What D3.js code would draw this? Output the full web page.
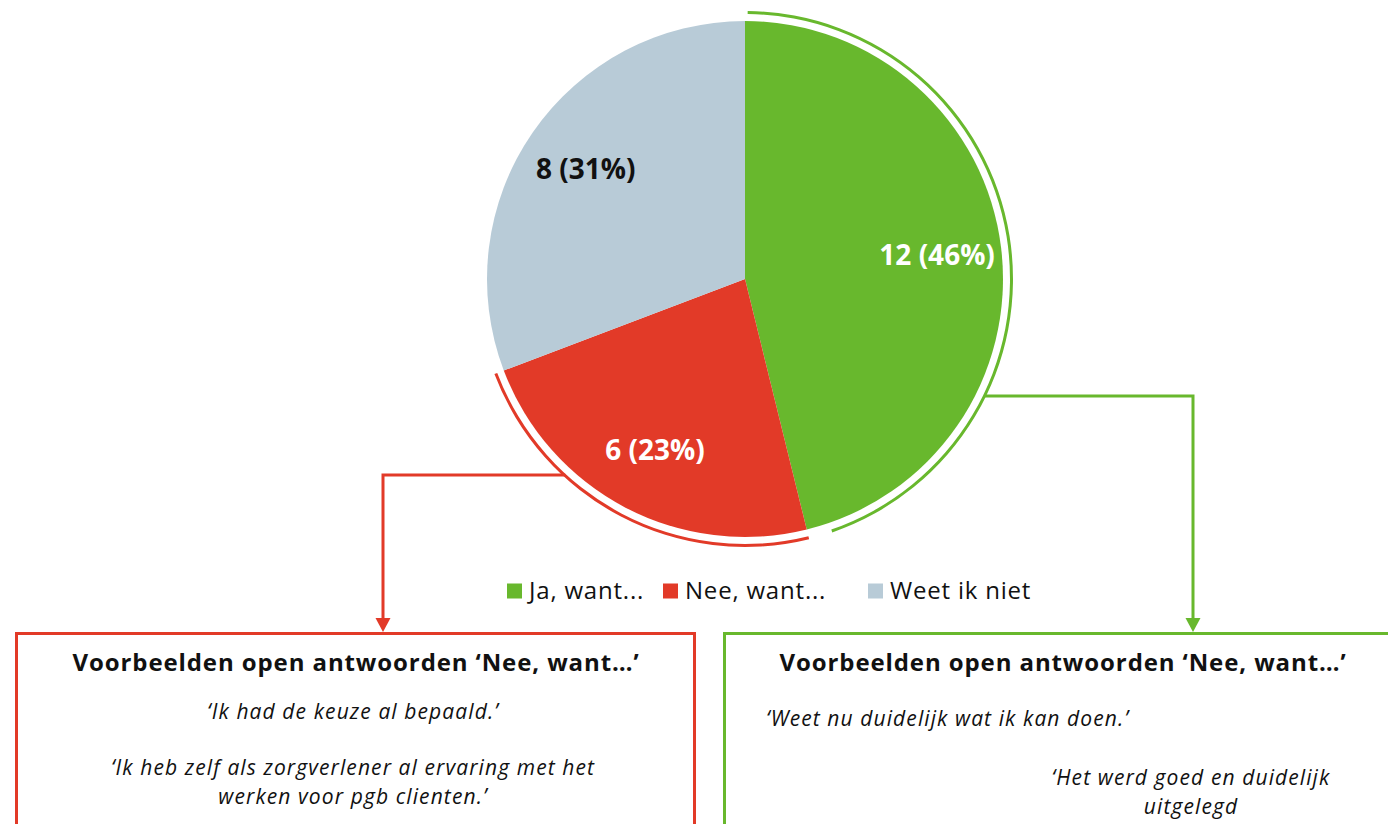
<!DOCTYPE html>
<html>
<head>
<meta charset="utf-8">
<script src="https://cdn.jsdelivr.net/npm/d3@7"></script>
<style>
  body { margin: 0; background: #fff; }
  svg { display: block; font-family: "Open Sans", "Noto Sans", sans-serif; }
</style>
</head>
<body>
<svg id="chart" width="1388" height="824"></svg>
<script>
// data
var categories = ["Ja, want...", "Nee, want...", "Weet ik niet"];
var counts = [12, 6, 8];
var colors = ["#68b82d", "#e23a28", "#b8cbd7"];
var labelColors = ["#fff", "#fff", "#111"];
var redTitle = "Voorbeelden open antwoorden \u2018Nee, want\u2026\u2019";
var redQuotes = ["\u2018Ik had de keuze al bepaald.\u2019", "", "\u2018Ik heb zelf als zorgverlener al ervaring met het", "werken voor pgb clienten.\u2019"];
var greenTitle = "Voorbeelden open antwoorden \u2018Nee, want\u2026\u2019";
var greenQuotes = ["\u2018Weet nu duidelijk wat ik kan doen.\u2019", "\u2018Het werd goed en duidelijk", "uitgelegd"];

var svg = d3.select("#chart");
var cx = 745, cy = 279, r = 258;
var total = d3.sum(counts);

var pie = d3.pie().sort(null).value(function(d) { return d; });
var arcs = pie(counts);
var arc = d3.arc().innerRadius(0).outerRadius(r);
var labelArc = d3.arc().innerRadius(r * 0.75).outerRadius(r * 0.75);

var g = svg.append("g").attr("transform", "translate(" + cx + "," + cy + ")");

g.selectAll("path.slice")
  .data(arcs)
  .enter().append("path")
  .attr("class", "slice")
  .attr("d", arc)
  .attr("fill", function(d, i) { return colors[i]; });

g.selectAll("text.lbl")
  .data(arcs)
  .enter().append("text")
  .attr("class", "lbl")
  .attr("transform", function(d) { return "translate(" + labelArc.centroid(d) + ")"; })
  .attr("text-anchor", "middle")
  .attr("dy", "0.35em")
  .style("font-size", "28px")
  .style("font-weight", "bold")
  .attr("fill", function(d, i) { return labelColors[i]; })
  .text(function(d) { return d.value + " (" + Math.round(d.value / total * 100) + "%)"; });

// outer highlight arcs for "Ja" and "Nee"
var ring = d3.arc().innerRadius(265).outerRadius(268);
g.append("path")
  .attr("d", ring({ startAngle: arcs[0].startAngle + 0.01, endAngle: arcs[0].endAngle - 0.09 }))
  .attr("fill", colors[0]);
g.append("path")
  .attr("d", ring({ startAngle: arcs[1].startAngle, endAngle: arcs[1].endAngle }))
  .attr("fill", colors[1]);

// connectors
function connector(y, x2, yEnd, side, color) {
  var xr = Math.sqrt(266 * 266 - (y - cy) * (y - cy));
  var x1 = cx + side * xr;
  svg.append("path")
    .attr("d", "M" + x1 + "," + y + "H" + x2 + "V" + (yEnd - 12))
    .attr("fill", "none")
    .attr("stroke", color)
    .attr("stroke-width", 3);
  svg.append("path")
    .attr("d", "M" + (x2 - 7.5) + "," + (yEnd - 14) + "L" + (x2 + 7.5) + "," + (yEnd - 14) + "L" + x2 + "," + yEnd + "Z")
    .attr("fill", color);
}
connector(475, 383, 632, -1, colors[1]);
connector(396, 1193, 632, 1, colors[0]);

// legend
var legend = svg.append("g").attr("transform", "translate(507,591)");
var legendX = [0, 156, 361];
categories.forEach(function(c, i) {
  var lg = legend.append("g").attr("transform", "translate(" + legendX[i] + ",0)");
  lg.append("rect").attr("x", 0).attr("y", -7.5).attr("width", 15).attr("height", 15).attr("fill", colors[i]);
  lg.append("text").attr("x", 22).attr("dy", "0.35em")
    .style("font-size", "24px").style("letter-spacing", "0.8px")
    .attr("fill", "#111").text(c);
});

// boxes
svg.append("rect").attr("x", 16.5).attr("y", 633.5).attr("width", 678).attr("height", 260)
  .attr("fill", "none").attr("stroke", colors[1]).attr("stroke-width", 3);
svg.append("rect").attr("x", 724.5).attr("y", 633.5).attr("width", 700).attr("height", 260)
  .attr("fill", "none").attr("stroke", colors[0]).attr("stroke-width", 3);

function title(x, t) {
  svg.append("text").attr("x", x).attr("y", 671).attr("text-anchor", "middle")
    .style("font-size", "24px").style("font-weight", "bold").style("letter-spacing", "0.9px")
    .attr("fill", "#111").text(t);
}
title(356, redTitle);
title(1063, greenTitle);

function quote(x, y, anchor, t) {
  svg.append("text").attr("x", x).attr("y", y).attr("text-anchor", anchor)
    .style("font-size", "21px").style("font-style", "italic").style("letter-spacing", "1.1px")
    .attr("fill", "#111").text(t);
}
var redY = [719, 747, 775, 804];
redQuotes.forEach(function(q, i) { quote(353, redY[i], "middle", q); });

quote(766, 726, "start", greenQuotes[0]);
quote(1191, 785, "middle", greenQuotes[1]);
quote(1191, 814, "middle", greenQuotes[2]);
</script>
</body>
</html>
